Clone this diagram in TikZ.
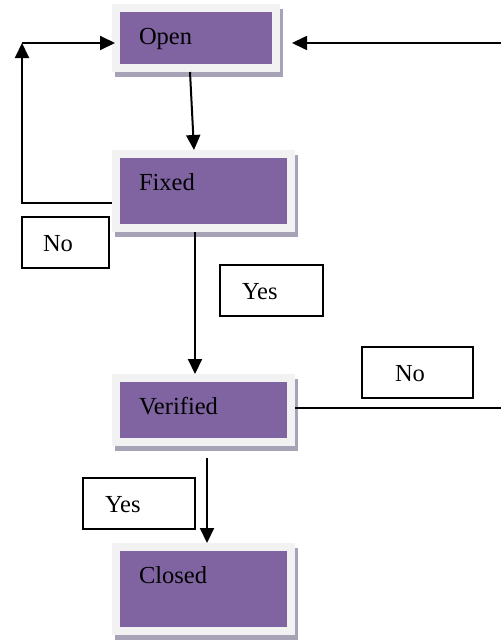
\documentclass[tikz,border=0pt]{standalone}
\usepackage{fontspec}
\setmainfont{Liberation Serif}
\usetikzlibrary{arrows.meta,shadows}
\definecolor{statefill}{HTML}{8064A2}
\definecolor{stateframe}{HTML}{F2F2F2}
\definecolor{stateshade}{RGB}{167,162,181}

\begin{document}
\begin{tikzpicture}[x=1pt,y=-1pt,
  every node/.style={font=\fontsize{24.5}{29}\selectfont},
  % purple state box with a light frame and an offset shadow
  state/.style={rectangle, fill=statefill, draw=stateframe, line width=8pt,
    outer sep=4pt, inner xsep=23pt, inner ysep=0pt, text height=36pt,
    align=left, anchor=north west,
    general shadow={shadow xshift=3pt, shadow yshift=-5pt,
      fill=stateshade, draw=stateshade}},
  % small outlined label box
  tag/.style={rectangle, draw=black, line width=1.2pt, fill=white,
    inner xsep=22pt, inner ysep=0pt, text height=34pt, text depth=17pt,
    align=left, anchor=north west, outer sep=0pt},
  flow/.style={draw=black, line width=2pt, -{Triangle[length=15pt,width=14pt]}},
  wire/.style={draw=black, line width=1.2pt}
]
\useasboundingbox (0,0) rectangle (501,643);

% states
\node[state, text width=114pt, text depth=24pt] (open)     at (112,4)   {Open};
\node[state, text width=129pt, text depth=38pt] (fixed)    at (112,150) {Fixed};
\node[state, text width=129pt, text depth=28pt] (verified) at (112,374) {Verified};
\node[state, text width=129pt, text depth=48pt] (closed)   at (112,543) {Closed};

% outcome labels
\node[tag, inner xsep=21pt, text width=45pt] (noleft)   at (22,217)  {No};
\node[tag, text width=59pt]                  (yesup)    at (220,265) {Yes};
\node[tag, inner xsep=33pt, text width=45pt] (noright)  at (362,347) {No};
\node[tag, text width=68pt]                  (yeslow)   at (83,478)  {Yes};

% free ends and bends
\coordinate (loopcorner) at (22,43);
\coordinate (feedR) at (501,43);
\coordinate (tailR) at (501,408);
\coordinate (gapV)  at (207,458);

% connectors
\draw[flow] ([xshift=-6pt]open.south) -- ([xshift=-9.5pt]fixed.north);
\draw[flow] ([xshift=-8.5pt]fixed.south) -- ([xshift=-8.5pt]verified.north);
\draw[flow] (gapV) -- (gapV |- closed.north);
\draw[flow] ([yshift=-12pt]fixed.west) -| (loopcorner);
\draw[flow] (loopcorner) -- ([xshift=3pt]open.west |- loopcorner);
\draw[flow, line width=1.7pt] (feedR) -- ([shift={(12pt,-5pt)}]open.east);
\draw[wire] (verified.east |- tailR) -- (tailR);
\end{tikzpicture}
\end{document}
